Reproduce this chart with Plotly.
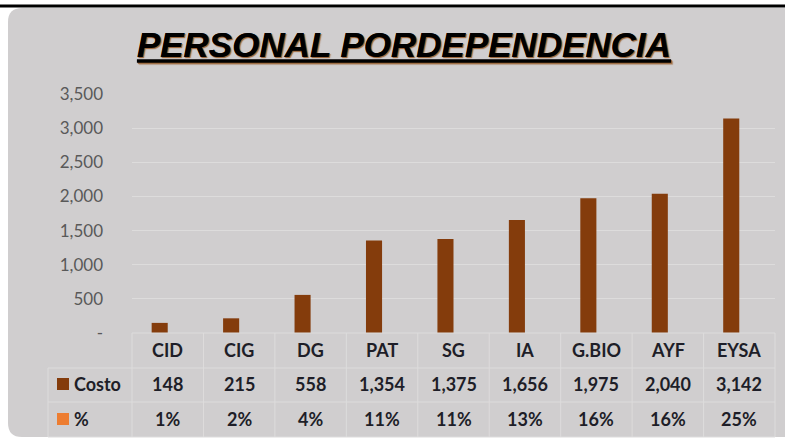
import plotly.graph_objects as go

categories = ["CID", "CIG", "DG", "PAT", "SG", "IA", "G.BIO", "AYF", "EYSA"]
costo = [148, 215, 558, 1354, 1375, 1656, 1975, 2040, 3142]
pct = [0.01, 0.02, 0.04, 0.11, 0.11, 0.13, 0.16, 0.16, 0.25]
ytick_vals = [0, 500, 1000, 1500, 2000, 2500, 3000, 3500]
ytick_text = ["-", "500", "1,000", "1,500", "2,000", "2,500", "3,000", "3,500"]
series_names = ["Costo", "%"]

W, H = 785, 440
L, R, T, B = 132, 10, 94, 107
PW, PH = W - L - R, H - T - B

BG = "#d0cecf"
LINE = "#dddcdc"
BROWN = "#843c0c"
ORANGE = "#ed7d31"
TXT = "#1e1e28"


def px(x):
    return (x - L) / PW


def py(y):
    return (H - B - y) / PH


fig = go.Figure()
fig.add_trace(go.Bar(x=categories, y=costo, name=series_names[0],
                     marker=dict(color=BROWN, line=dict(width=0))))
fig.add_trace(go.Bar(x=categories, y=pct, name=series_names[1],
                     marker=dict(color=ORANGE, line=dict(width=0)), opacity=0))

shapes = []
# background rounded rect
x0, y0, x1, y1, r = 8, 8, 790, 437, 14
path = (f"M {px(x0)},{py(y0 + r)} "
        f"Q {px(x0)},{py(y0)} {px(x0 + r)},{py(y0)} "
        f"L {px(x1)},{py(y0)} L {px(x1)},{py(y1)} "
        f"L {px(x0 + r)},{py(y1)} "
        f"Q {px(x0)},{py(y1)} {px(x0)},{py(y1 - r)} Z")
shapes.append(dict(type="path", xref="paper", yref="paper", path=path,
                   fillcolor=BG, line=dict(width=0), layer="below"))
# top black line
shapes.append(dict(type="line", xref="paper", yref="paper",
                   x0=px(0), x1=px(W), y0=py(6), y1=py(6),
                   line=dict(color="black", width=3)))

# table lines
row_lines = [333, 368, 402, 437]
n = len(categories)
colw = PW / n
for i, yy in enumerate(row_lines):
    xs = L if i == 0 else 48
    shapes.append(dict(type="line", xref="paper", yref="paper",
                       x0=px(xs), x1=px(L + PW), y0=py(yy), y1=py(yy),
                       line=dict(color=LINE, width=1)))
for k in range(n + 1):
    xx = L + k * colw
    shapes.append(dict(type="line", xref="paper", yref="paper",
                       x0=px(xx), x1=px(xx), y0=py(333), y1=py(437),
                       line=dict(color=LINE, width=1)))
shapes.append(dict(type="line", xref="paper", yref="paper",
                   x0=px(48), x1=px(48), y0=py(368), y1=py(437),
                   line=dict(color=LINE, width=1)))
# legend keys
for yc, col in [(384, BROWN), (419, ORANGE)]:
    shapes.append(dict(type="rect", xref="paper", yref="paper",
                       x0=px(57), x1=px(69), y0=py(yc - 6), y1=py(yc + 6),
                       fillcolor=col, line=dict(width=0)))

annotations = []
tfont = dict(family="Lato", size=18, color=TXT)
for i, c in enumerate(categories):
    annotations.append(dict(x=c, xref="x", y=py(350), yref="paper",
                            text=f"<b>{c}</b>", showarrow=False, font=tfont,
                            xanchor="center", yanchor="middle"))
    annotations.append(dict(x=c, xref="x", y=py(384), yref="paper",
                            text=f"<b>{costo[i]:,}</b>", showarrow=False, font=tfont,
                            xanchor="center", yanchor="middle"))
    annotations.append(dict(x=c, xref="x", y=py(419), yref="paper",
                            text=f"<b>{round(pct[i] * 100)}%</b>", showarrow=False, font=tfont,
                            xanchor="center", yanchor="middle"))
for yc, name in [(384, series_names[0]), (419, series_names[1])]:
    annotations.append(dict(x=px(72), xref="paper", y=py(yc), yref="paper",
                            text=f"<b>{name}</b>", showarrow=False, font=tfont,
                            xanchor="left", yanchor="middle"))

fig.update_layout(
    width=W, height=H,
    margin=dict(l=L, r=R, t=T, b=B, pad=0),
    paper_bgcolor="white", plot_bgcolor="rgba(0,0,0,0)",
    barmode="group", bargap=0.55, bargroupgap=0,
    showlegend=False,
    title=dict(text="<u><i><b>PERSONAL PORDEPENDENCIA</b></i></u>",
               x=404 / W, xanchor="center", xref="container",
               y=1 - 45 / H, yanchor="middle", yref="container",
               font=dict(family="Liberation Sans", size=35, color="black",
                         shadow="1px 1px 1px rgba(150,90,40,0.7)")),
    xaxis=dict(showticklabels=False, showgrid=False, zeroline=False,
               showline=False, ticks=""),
    yaxis=dict(range=[0, 3500], tickvals=ytick_vals, ticktext=ytick_text,
               showgrid=True, gridcolor=LINE, gridwidth=1, zeroline=False,
               showline=False, ticks="", ticklabelstandoff=28,
               tickfont=dict(family="Lato", size=17, color="#595959")),
    shapes=shapes, annotations=annotations,
    hovermode=False,
)

fig.write_html("out.html", config={"displayModeBar": False},
               post_script="document.body.style.margin='0px';document.body.style.overflow='hidden';")
